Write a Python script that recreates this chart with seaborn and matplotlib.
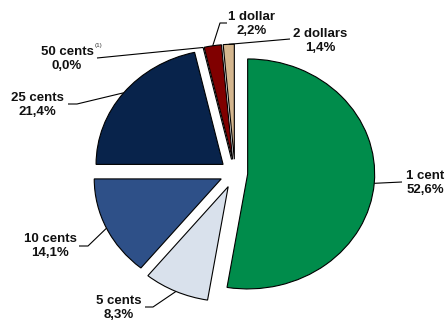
import matplotlib
matplotlib.use("Agg")
import matplotlib.pyplot as plt
import numpy as np
import seaborn as sns

# ---- data ----
categories = ["1 cent", "5 cents", "10 cents", "25 cents", "50 cents", "1 dollar", "2 dollars"]
shares = [52.6, 8.3, 14.1, 21.4, 0.0, 2.2, 1.4]
slice_colors = ["#008C4B", "#D9E1EC", "#2E5088", "#08234B", "#08234B", "#800000", "#D4B68E"]
explode = [0.10, 0.13, 0.12, 0.12, 0.12, 0.12, 0.12]

sns.set_theme(style="white")
plt.rcParams["font.family"] = ["Liberation Sans", "DejaVu Sans"]
palette = sns.color_palette(slice_colors)

W, H = 445, 322
cx, cy, rx, ry = 235, 173, 127, 115


def px(x, y):
    return ((x - cx) / rx, (cy - y) / ry)


fig = plt.figure(figsize=(W / 100, H / 100), dpi=100)
fig.patch.set_facecolor("white")
ax = fig.add_axes([0, 0, 1, 1])

wedges, _ = ax.pie(shares, explode=explode, colors=palette, startangle=90,
                   counterclock=False,
                   wedgeprops=dict(edgecolor="black", linewidth=0.8))
ax.set_aspect("auto")
ax.set_xlim(-cx / rx, (W - cx) / rx)
ax.set_ylim(-(H - cy) / ry, cy / ry)
ax.axis("off")


def rim(w):
    t = np.deg2rad((w.theta1 + w.theta2) / 2)
    return (w.center[0] + w.r * np.cos(t), w.center[1] + w.r * np.sin(t))


# label layout: (text centre px, leader path px from text side)
layout = {
    "1 cent": ((425, 183), [(402, 182)]),
    "5 cents": ((119, 308), [(145, 307), (153, 307)]),
    "10 cents": ((50, 246), [(79, 246), (88, 246)]),
    "25 cents": ((37, 105), [(68, 104), (77, 104)]),
    "50 cents": ((67, 59), [(97, 58)]),
    "1 dollar": ((252, 24), [(227, 23), (220, 23)]),
    "2 dollars": ((320, 41), [(290, 39)]),
}

for w, cat, val in zip(wedges, categories, shares):
    (tx, ty), path = layout[cat]
    pts = [px(*p) for p in path] + [rim(w)]
    xs, ys = zip(*pts)
    ax.plot(xs, ys, color="black", lw=0.8, solid_capstyle="butt")
    label = f"{cat}\n{val:.1f}%".replace(".", ",")
    ax.text(*px(tx, ty), label, ha="center", va="center", fontsize=9.5,
            fontweight="bold", color="#111111", linespacing=1.25)

ax.text(*px(99, 45), "(1)", ha="center", va="center", fontsize=4.5, color="#333333")

fig.savefig("out.png", dpi=100, facecolor="white")
